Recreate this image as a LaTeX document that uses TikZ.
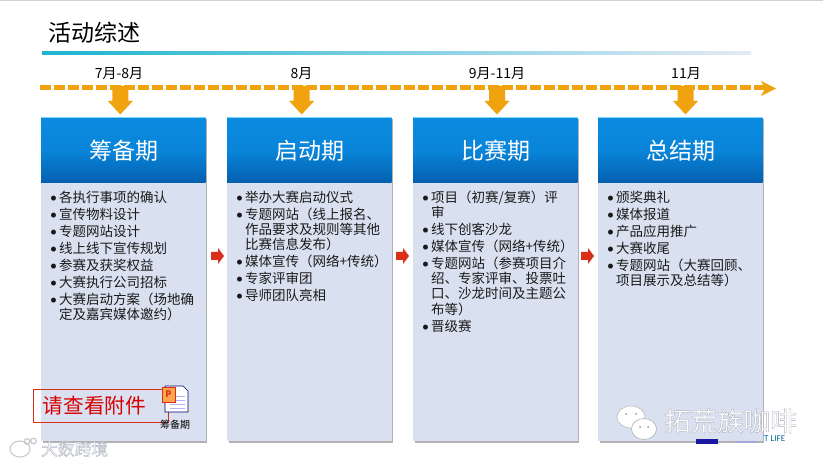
\documentclass[tikz,border=0pt]{standalone}
\usepackage{fontspec}
\setmainfont{Noto Sans CJK SC}
\setsansfont{Carlito}
\usetikzlibrary{calc}
\definecolor{amber}{HTML}{F0A30E}
\definecolor{bodyblue}{HTML}{D9E1F1}
\definecolor{headtop}{HTML}{0A8BE0}
\definecolor{headbot}{HTML}{045FAE}
\definecolor{marker}{HTML}{D8301A}
\definecolor{ruleteal}{HTML}{1BB5CF}
\newcommand{\bl}{\makebox[9pt][l]{\sffamily\fontsize{14}{14}\selectfont\raisebox{0pt}{•}}}
\newcommand{\ct}{\hspace*{9pt}}
\newcommand{\outl}[1]{\special{pdf:code q 2 Tr 0.4 w 0.68 0.70 0.74 RG}#1\special{pdf:code Q}}
\tikzset{
  x=1pt,y=-1pt,
  bodybox/.style={fill=bodyblue,draw=none,anchor=north west,inner sep=0pt,minimum width=164.5pt,minimum height=259pt},
  headbox/.style={anchor=north west,inner sep=0pt,minimum width=164.5pt,minimum height=64pt,
     top color=headtop,bottom color=headbot,middle color=headtop!85!headbot,text=white,font=\fontsize{23}{23}\selectfont},
  datelabel/.style={font=\fontsize{14}{14}\selectfont,inner sep=0pt,text=black},
  bodytext/.style={anchor=north west,inner sep=0pt,align=left,font=\fontsize{13.5}{15.2}\selectfont,text=black!90},
  dashline/.style={draw=amber,line width=5pt,dash pattern=on 11pt off 3pt},
  downarrow/.style={fill=amber,draw=none},
  redarrow/.style={fill=marker,draw=none},
}
\begin{document}
\begin{tikzpicture}
\useasboundingbox (0,0) rectangle (823,465);
\fill[white] (0,0) rectangle (823,465);
\fill[black!18] (0,0) rectangle (823,1);
% title
\node[anchor=west,inner sep=0pt,font=\fontsize{23}{23}\selectfont] (title) at (48,33) {活动综述};
\shade[left color=ruleteal,right color=bodyblue!70!white] (42,51.5) rectangle (751,54.5);
% timeline
\coordinate (lineA) at (40,88);
\coordinate (lineB) at (765,88);
\draw[dashline] (lineA) -- (lineB);
\fill[amber] (761,81) -- (776,88.5) -- (761,96) -- (765,88.5) -- cycle;
% boxes
\foreach \nm/\x/\hd/\dt/\ax/\dx in {a/41/筹备期/7月-8月/120.3/119,b/227/启动期/8月/301.7/301.5,c/413/比赛期/9月-11月/497/497,d/598/总结期/11月/685.5/686}{
  \fill[black!30] (\x+1.5,119) rectangle (\x+166,442.5);
  \node[bodybox] (body\nm) at (\x,182) {};
  \fill[cyan!50!white] (\x,117) rectangle (\x+165,182);
  \node[headbox] (head\nm) at (\x,118.5) {\hspace*{2pt}\raisebox{-4pt}{\hd}};
  \node[datelabel] (date\nm) at (\dx,74) {\dt};
  \fill[downarrow] (\ax-8,86) -- (\ax+8,86) -- (\ax+8,101) -- (\ax+12.5,101) -- (\ax,114.5) -- (\ax-12.5,101) -- (\ax-8,101) -- cycle;
}
% body text
\node[bodytext] (texta) at (50,190.5) {%
\bl 各执行事项的确认\\[1.8pt]
\bl 宣传物料设计\\[1.8pt]
\bl 专题网站设计\\[1.8pt]
\bl 线上线下宣传规划\\[1.8pt]
\bl 参赛及获奖权益\\[1.8pt]
\bl 大赛执行公司招标\\[1.8pt]
\bl 大赛启动方案（场地确\\
\ct 定及嘉宾媒体邀约）};
\node[bodytext] (textb) at (236,190.5) {%
\bl 举办大赛启动仪式\\[1.8pt]
\bl 专题网站（线上报名、\\
\ct 作品要求及规则等其他\\
\ct 比赛信息发布）\\[1.8pt]
\bl 媒体宣传（网络+传统）\\[1.8pt]
\bl 专家评审团\\[1.8pt]
\bl 导师团队亮相};
\node[bodytext] (textc) at (422,190.5) {%
\bl 项目（初赛/复赛）评\\
\ct 审\\[1.8pt]
\bl 线下创客沙龙\\[1.8pt]
\bl 媒体宣传（网络+传统）\\[1.8pt]
\bl 专题网站（参赛项目介\\
\ct 绍、专家评审、投票吐\\
\ct 口、沙龙时间及主题公\\
\ct 布等）\\[1.8pt]
\bl 晋级赛};
\node[bodytext] (textd) at (607,190.5) {%
\bl 颁奖典礼\\[1.8pt]
\bl 媒体报道\\[1.8pt]
\bl 产品应用推广\\[1.8pt]
\bl 大赛收尾\\[1.8pt]
\bl 专题网站（大赛回顾、\\
\ct 项目展示及总结等）};
% red arrows
\foreach \rx in {211,396,581}{
  \fill[redarrow] (\rx,252) -- (\rx+7,252) -- (\rx+7,248) -- (\rx+13,256) -- (\rx+7,264) -- (\rx+7,260) -- (\rx,260) -- cycle;
}
% attachment note
\node[draw=marker,line width=0.7pt,anchor=north west,minimum width=135pt,minimum height=32.5pt,inner sep=0pt,text=red!85!black,font=\fontsize{20.7}{20.7}\selectfont] (note) at (33,389.5) {\hspace*{-13pt}请查看附件};
\fill[white,draw=blue!45!black,line width=0.7pt] (165,386) -- (183,386) -- (188,391) -- (188,412) -- (165,412) -- cycle;
\foreach \yy in {396,400,404,408}{\draw[blue!30!white,line width=0.8pt] (170,\yy) -- (185,\yy);}
\fill[orange!70!white,draw=marker,line width=0.5pt] (162,387) rectangle (175,402);
\node[inner sep=0pt,text=marker,font=\fontsize{9}{9}\selectfont\bfseries] (pp) at (168.5,394.5) {P};
\node[inner sep=0pt,font=\fontsize{10}{10}\selectfont] (att) at (175,424.5) {筹备期};
% logo remnant
\fill[blue!60!black!90] (696,438.5) rectangle (718,444);
\fill[black!40!blue!35] (735,441) rectangle (756,443);
\node[inner sep=0pt,anchor=west,text=teal!80!blue,font=\sffamily\fontsize{9}{9}\selectfont] (life) at (764,438.5) {T LIFE};
% watermarks
\fill[white,draw=black!30,line width=0.5pt] (631,417) ellipse (14 and 11);
\fill[white,draw=black!30,line width=0.6pt] (644,429) ellipse (12.5 and 10.5);
\fill[black!40] (626,414) circle (1) (636,414) circle (1) (640,427) circle (1) (648,427) circle (1);
\node[inner sep=0pt,anchor=west,text=white,font=\fontsize{26.5}{26.5}\selectfont] (wma) at (664,421) {\outl{拓荒族咖啡}};
\fill[white,draw=black!22,line width=1pt] (20,449) ellipse (10 and 8);
\draw[black!22,line width=1.2pt] (27,441.5) circle (2.8) (33.5,441) circle (2.8);
\node[inner sep=0pt,anchor=west,text=white,font=\fontsize{16.7}{16.7}\selectfont] (wmb) at (41,449) {\outl{大数跨境}};
\end{tikzpicture}
\end{document}
